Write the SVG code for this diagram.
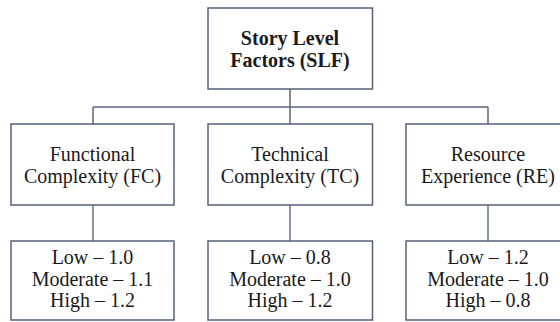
<svg xmlns="http://www.w3.org/2000/svg" width="560" height="322" viewBox="0 0 560 322">
<rect width="560" height="322" fill="#fff"/>
<g id="connectors" fill="none">
<path stroke="#5a6680" stroke-width="1.5" d="M290,89 V107 M93,107 H488 M93,107 V124 M290,107 V124 M488,107 V124"/>
<path stroke="#8a96a8" stroke-width="2" d="M93,205 V241 M290,205 V241 M488,205 V241"/>
</g>
<g fill="#fff" stroke="#55607a" stroke-width="1.5">
<rect id="slf-box" x="208" y="8" width="164.5" height="81"/>
<rect id="fc-box" x="11" y="124" width="163" height="81"/>
<rect id="tc-box" x="208" y="124" width="164.5" height="81"/>
<rect id="re-box" x="406" y="124" width="164" height="81"/>
<rect id="fcv-box" x="11" y="241" width="163" height="79"/>
<rect id="tcv-box" x="208" y="241" width="164.5" height="79"/>
<rect id="rev-box" x="406" y="241" width="164" height="79"/>
</g>
<g id="slf">
<text font-family="Liberation Serif, Times New Roman, serif" font-size="20" font-weight="bold" fill="#1a1a1a" text-anchor="middle" x="290" y="45">Story Level</text>
<text font-family="Liberation Serif, Times New Roman, serif" font-size="20" font-weight="bold" fill="#1a1a1a" text-anchor="middle" x="290" y="67">Factors (SLF)</text>
</g>
<g id="fc">
<text font-family="Liberation Serif, Times New Roman, serif" font-size="20" fill="#1a1a1a" text-anchor="middle" x="92.5" y="161">Functional</text>
<text font-family="Liberation Serif, Times New Roman, serif" font-size="20" fill="#1a1a1a" text-anchor="middle" x="92.5" y="183">Complexity (FC)</text>
</g>
<g id="tc">
<text font-family="Liberation Serif, Times New Roman, serif" font-size="20" fill="#1a1a1a" text-anchor="middle" x="290" y="161">Technical</text>
<text font-family="Liberation Serif, Times New Roman, serif" font-size="20" fill="#1a1a1a" text-anchor="middle" x="290" y="183">Complexity (TC)</text>
</g>
<g id="re">
<text font-family="Liberation Serif, Times New Roman, serif" font-size="20" fill="#1a1a1a" text-anchor="middle" x="488" y="161">Resource</text>
<text font-family="Liberation Serif, Times New Roman, serif" font-size="20" fill="#1a1a1a" text-anchor="middle" x="488" y="183">Experience (RE)</text>
</g>
<g id="fc-values">
<text font-family="Liberation Serif, Times New Roman, serif" font-size="20" fill="#1a1a1a" text-anchor="middle" x="92.5" y="264">Low – 1.0</text>
<text font-family="Liberation Serif, Times New Roman, serif" font-size="20" fill="#1a1a1a" text-anchor="middle" x="92.5" y="286">Moderate – 1.1</text>
<text font-family="Liberation Serif, Times New Roman, serif" font-size="20" fill="#1a1a1a" text-anchor="middle" x="92.5" y="307">High – 1.2</text>
</g>
<g id="tc-values">
<text font-family="Liberation Serif, Times New Roman, serif" font-size="20" fill="#1a1a1a" text-anchor="middle" x="290" y="264">Low – 0.8</text>
<text font-family="Liberation Serif, Times New Roman, serif" font-size="20" fill="#1a1a1a" text-anchor="middle" x="290" y="286">Moderate – 1.0</text>
<text font-family="Liberation Serif, Times New Roman, serif" font-size="20" fill="#1a1a1a" text-anchor="middle" x="290" y="307">High – 1.2</text>
</g>
<g id="re-values">
<text font-family="Liberation Serif, Times New Roman, serif" font-size="20" fill="#1a1a1a" text-anchor="middle" x="488" y="264">Low – 1.2</text>
<text font-family="Liberation Serif, Times New Roman, serif" font-size="20" fill="#1a1a1a" text-anchor="middle" x="488" y="286">Moderate – 1.0</text>
<text font-family="Liberation Serif, Times New Roman, serif" font-size="20" fill="#1a1a1a" text-anchor="middle" x="488" y="307">High – 0.8</text>
</g>
</svg>
